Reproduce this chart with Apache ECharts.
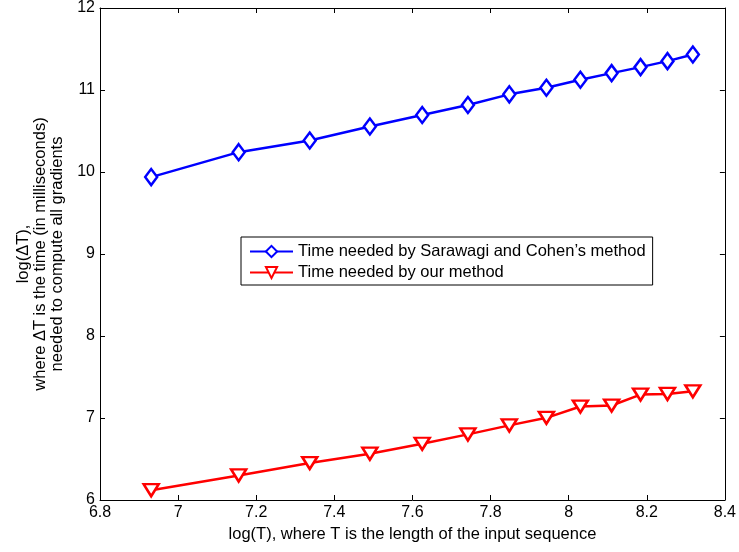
<!DOCTYPE html>
<html>
<head>
<meta charset="utf-8">
<script src="https://cdn.jsdelivr.net/npm/echarts@6/dist/echarts.min.js"></script>
<style>html,body{margin:0;padding:0;background:#fff}#c{width:739px;height:552px}</style>
</head>
<body>
<div id="c"></div>
<script>
var logT = [6.931, 7.155, 7.337, 7.491, 7.625, 7.742, 7.848, 7.943, 8.030, 8.110, 8.184, 8.253, 8.318];
var sarawagi = [9.938, 10.242, 10.384, 10.554, 10.696, 10.818, 10.947, 11.028, 11.125, 11.206, 11.279, 11.352, 11.433];
var ours = [6.12, 6.30, 6.45, 6.565, 6.686, 6.80, 6.91, 7.002, 7.14, 7.152, 7.286, 7.294, 7.326];
var seriesNames = ["Time needed by Sarawagi and Cohen\u2019s method", "Time needed by our method"];
var xTitle = "log(T), where T is the length of the input sequence";
var yTitle = "log(\u0394T),\nwhere \u0394T is the time (in milliseconds)\nneeded to compute all gradients";

function pairs(xs, ys){ return xs.map(function(x,i){ return [x, ys[i]]; }); }
var font = 'Liberation Sans, Arial, sans-serif';
var fs = 16.5;
var chart = echarts.init(document.getElementById('c'), null, {renderer:'canvas'});
var axLine = {show:true, lineStyle:{color:'#000', width:1}};
var tick = {show:true, inside:true, length:5, lineStyle:{color:'#000'}};
chart.setOption({
  animation:false,
  backgroundColor:'#fff',
  grid:{left:100, right:13, top:6, bottom:52, containLabel:false},
  xAxis:[{
    type:'value', min:6.8, max:8.4, interval:0.2, position:'bottom',
    axisLine:axLine, axisTick:tick, splitLine:{show:false},
    axisLabel:{color:'#000', fontFamily:font, fontSize:16, margin:5,
      formatter:function(v){ return String(Math.round(v*10)/10); }},
    name:xTitle, nameLocation:'middle', nameGap:24,
    nameTextStyle:{color:'#000', fontFamily:font, fontSize:fs}
  },{
    type:'value', min:6.8, max:8.4, interval:0.2, position:'top',
    axisLine:axLine, axisTick:tick, splitLine:{show:false}, axisLabel:{show:false}
  }],
  yAxis:[{
    type:'value', min:6, max:12, interval:1, position:'left',
    axisLine:axLine, axisTick:tick, splitLine:{show:false},
    axisLabel:{color:'#000', fontFamily:font, fontSize:16, margin:5},
    name:yTitle, nameLocation:'middle', nameGap:31, nameRotate:90,
    nameTextStyle:{color:'#000', fontFamily:font, fontSize:fs, lineHeight:17, align:'center'}
  },{
    type:'value', min:6, max:12, interval:1, position:'right',
    axisLine:axLine, axisTick:tick, splitLine:{show:false}, axisLabel:{show:false}
  }],
  legend:{
    orient:'vertical', left:241, top:237,
    backgroundColor:'#fff', borderColor:'#000', borderWidth:1,
    padding:[5,7,3,8], itemGap:2, itemWidth:43, itemHeight:14,
    textStyle:{color:'#000', fontFamily:font, fontSize:fs, lineHeight:19},
    data:seriesNames
  },
  series:[{
    name:seriesNames[0], type:'line', xAxisIndex:0, yAxisIndex:0,
    data:pairs(logT, sarawagi),
    lineStyle:{color:'#0000ff', width:2.5}, itemStyle:{color:'#fff', borderColor:'#0000ff', borderWidth:2.5},
    symbol:'diamond', symbolSize:[12,16], showAllSymbol:true
  },{
    name:seriesNames[1], type:'line', xAxisIndex:0, yAxisIndex:0,
    data:pairs(logT, ours),
    lineStyle:{color:'#ff0000', width:2.5}, itemStyle:{color:'#fff', borderColor:'#ff0000', borderWidth:2.5},
    symbol:'triangle', symbolRotate:180, symbolSize:[15,12], showAllSymbol:true
  }]
});
</script>
</body>
</html>
